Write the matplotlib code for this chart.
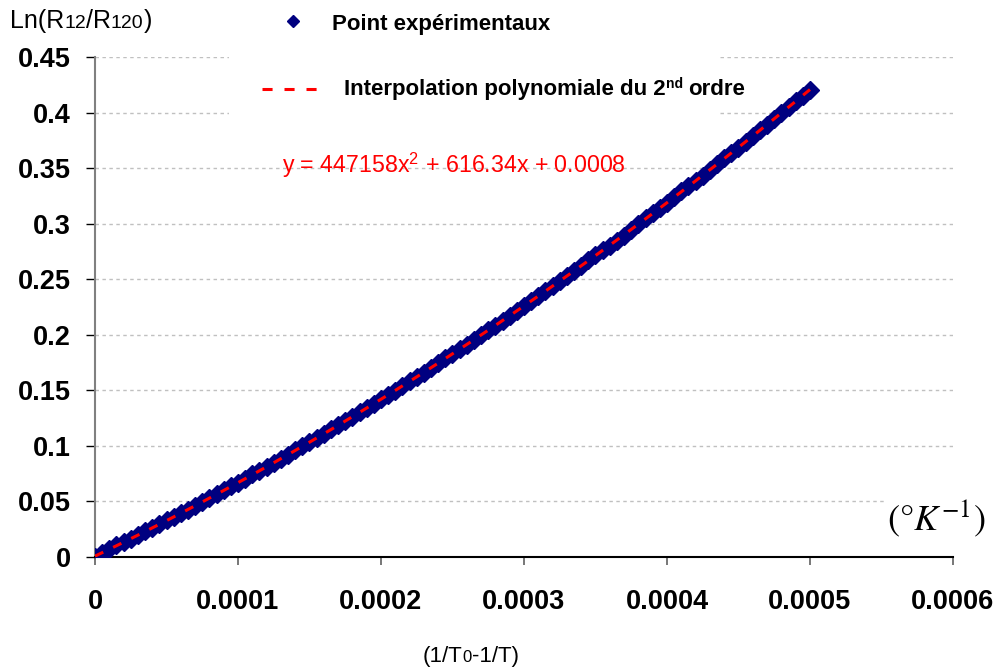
import numpy as np
import matplotlib
matplotlib.use("Agg")
import matplotlib.pyplot as plt
from matplotlib.lines import Line2D
from matplotlib.patches import Rectangle

plt.rcParams['font.family'] = ['Liberation Sans', 'DejaVu Sans']
plt.rcParams['mathtext.fontset'] = 'stix'

# ---------------- data ----------------
# x in units of 1e-6 K^-1
x_micro = [0, 5, 10, 15, 20, 25, 30, 35, 40, 45,
           50, 55, 60, 65, 70, 75, 80, 85, 90, 95,
           100, 105, 110, 115, 120, 125, 130, 135, 140, 145,
           150, 155, 160, 165, 170, 175, 180, 185, 190, 195,
           200, 205, 210, 215, 220, 225, 230, 235, 240, 245,
           250, 255, 260, 265, 270, 275, 280, 285, 290, 295,
           300, 305, 310, 315, 320, 325, 330, 335, 340, 345,
           350, 355, 360, 365, 370, 375, 380, 385, 390, 395,
           400, 405, 410, 415, 420, 425, 430, 435, 440, 445,
           450, 455, 460, 465, 470, 475, 480, 485, 490, 495, 500]
ln_ratio = [0.0000, 0.0037, 0.0072, 0.0105, 0.0131, 0.0164, 0.0198, 0.0231, 0.0260, 0.0296,
            0.0330, 0.0364, 0.0392, 0.0427, 0.0463, 0.0496, 0.0529, 0.0565, 0.0601, 0.0635,
            0.0667, 0.0705, 0.0743, 0.0778, 0.0811, 0.0843, 0.0878, 0.0914, 0.0960, 0.1000,
            0.1035, 0.1070, 0.1110, 0.1150, 0.1186, 0.1222, 0.1263, 0.1303, 0.1339, 0.1378,
            0.1421, 0.1461, 0.1498, 0.1539, 0.1582, 0.1623, 0.1660, 0.1702, 0.1747, 0.1789,
            0.1829, 0.1869, 0.1912, 0.1957, 0.2001, 0.2042, 0.2082, 0.2125, 0.2171, 0.2217,
            0.2261, 0.2303, 0.2345, 0.2394, 0.2441, 0.2485, 0.2529, 0.2573, 0.2619, 0.2669,
            0.2716, 0.2762, 0.2803, 0.2845, 0.2893, 0.2946, 0.3000, 0.3048, 0.3093, 0.3139,
            0.3188, 0.3240, 0.3290, 0.3336, 0.3383, 0.3433, 0.3487, 0.3539, 0.3587, 0.3633,
            0.3683, 0.3736, 0.3793, 0.3846, 0.3892, 0.3938, 0.3994, 0.4052, 0.4106, 0.4152, 0.4206]

x_ticks = [0, 0.0001, 0.0002, 0.0003, 0.0004, 0.0005, 0.0006]
x_tick_labels = ["0", "0.0001", "0.0002", "0.0003", "0.0004", "0.0005", "0.0006"]
y_ticks = [0, 0.05, 0.1, 0.15, 0.2, 0.25, 0.3, 0.35, 0.4, 0.45]
y_tick_labels = ["0", "0.05", "0.1", "0.15", "0.2", "0.25", "0.3", "0.35", "0.4", "0.45"]

legend_points = "Point expérimentaux"
legend_fit = ["Interpolation polynomiale du 2", "nd", "ordre"]
equation = r"y = 447158x$^{\mathregular{2}}$ + 616.34x + 0.0008"

# ---------------- figure ----------------
W, H = 1002, 670
fig = plt.figure(figsize=(W / 100, H / 100), dpi=100)
ax = fig.add_axes([95 / W, 1 - 557 / H, 858 / W, 500 / H])

x = np.array(x_micro) * 1e-6
y = np.array(ln_ratio)

NAVY = '#000080'
RED = '#FF0000'

ax.plot(x, y, linestyle='none', marker='D', markersize=9, color=NAVY,
        markeredgecolor=NAVY, markeredgewidth=1.0, zorder=3)

coef = np.polyfit(x, y, 2)
xf = np.linspace(x.min(), x.max(), 200)
ax.plot(xf, np.polyval(coef, xf), color=RED, linewidth=2.2,
        dashes=(3.0, 3.6), zorder=4)

ax.set_xlim(0, 0.0006)
ax.set_ylim(0, 0.45)
ax.set_xticks(x_ticks)
ax.set_xticklabels(x_tick_labels)
ax.set_yticks(y_ticks)
ax.set_yticklabels(y_tick_labels)
for lab in ax.get_xticklabels() + ax.get_yticklabels():
    lab.set_fontweight('bold')
    lab.set_fontsize(19.5)

ax.tick_params(axis='y', direction='out', length=6.5, width=1, color='black', pad=11)
ax.tick_params(axis='x', direction='out', length=6, width=1.2, color='#606060', pad=17)

ax.yaxis.grid(True, color='#c0c0c0', linestyle=(0, (2.5, 2.5)), linewidth=1)
ax.xaxis.grid(False)
ax.set_axisbelow(True)
for s in ['top', 'right']:
    ax.spines[s].set_visible(False)
ax.spines['left'].set_color('#808080')
ax.spines['left'].set_linewidth(1.5)
ax.spines['bottom'].set_color('black')
ax.spines['bottom'].set_linewidth(1.5)

# white legend area covering grid lines
fig.patches.append(Rectangle((229 / W, 1 - 125 / H), (719 - 229) / W, 125 / H,
                             transform=fig.transFigure, facecolor='white',
                             edgecolor='none', zorder=1.5))

renderer = fig.canvas.get_renderer()


def seq_text(x_px, y_px, pieces, **kw):
    xp = x_px
    for s, size, dy in pieces:
        t = fig.text(xp / W, 1 - (y_px + dy) / H, s, fontsize=size,
                     va='baseline', ha='left', zorder=5, **kw)
        bb = t.get_window_extent(renderer)
        xp += bb.width
    return xp


# legend entries
fig.lines.append(Line2D([293 / W], [1 - 21 / H], transform=fig.transFigure,
                        marker='D', markersize=6, color=NAVY, linestyle='none', zorder=5))
fig.text(332 / W, 1 - 30 / H, legend_points, fontsize=16, fontweight='bold',
         va='baseline', ha='left', zorder=5)
fig.lines.append(Line2D([262 / W, 328 / W], [1 - 89 / H, 1 - 89 / H], transform=fig.transFigure,
                        color=RED, linewidth=2.2, dashes=(3.3, 3.9), zorder=5))
xe = seq_text(344, 95, [(legend_fit[0], 16, 0), (legend_fit[1], 10, -7)], fontweight='bold')
seq_text(xe + 5, 95, [(legend_fit[2], 16, 0)], fontweight='bold')

# equation
fig.text(282 / W, 1 - 173 / H, equation, fontsize=16.7, color=RED,
         va='baseline', ha='left', zorder=5)

# y-axis title (top-left)
seq_text(10, 28, [("Ln(R", 18, 0), ("12", 14, 0), ("/R", 18, 0), ("120", 14, 0), (")", 18, 0)])

# x-axis title (bottom)
seq_text(423, 662, [("(1/T", 16, 0), ("0", 12, 0), ("-1/T)", 16, 0)])

# unit
fig.text(887 / W, 1 - 530 / H, r"$(\degree K^{-1})$", fontsize=26, color='black',
         va='baseline', ha='left', zorder=5,
         bbox=dict(facecolor='white', edgecolor='none', pad=1))

fig.savefig("out.png", dpi=100)
